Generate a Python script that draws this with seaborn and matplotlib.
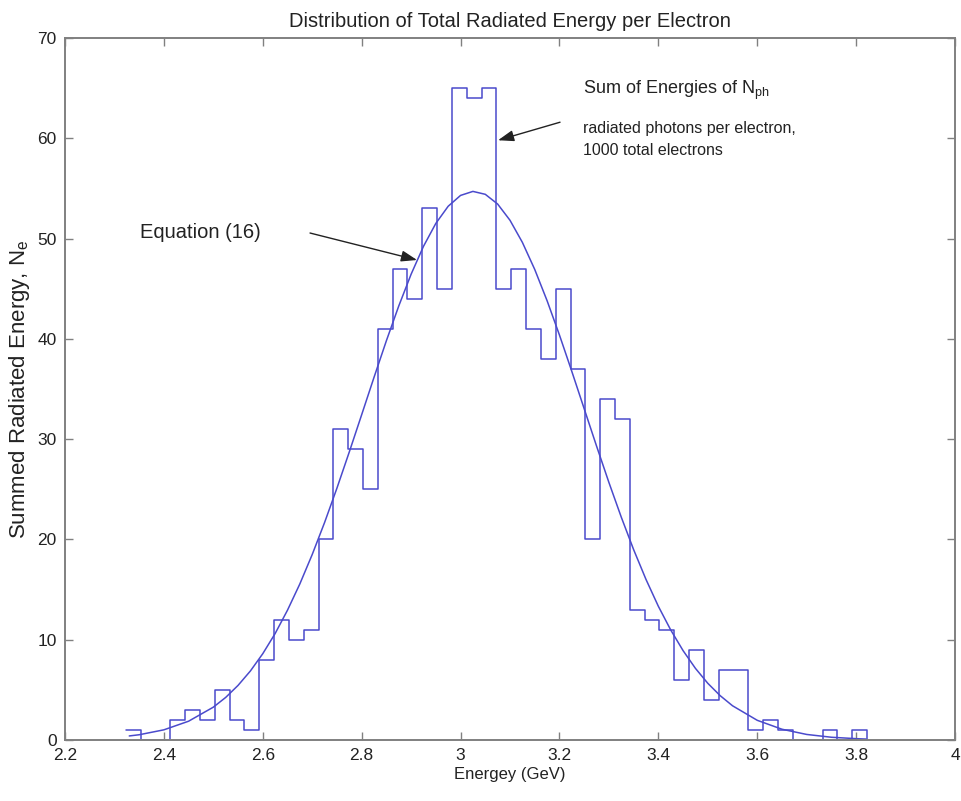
import numpy as np
import pandas as pd
import matplotlib
matplotlib.use("Agg")
import matplotlib.pyplot as plt
import seaborn as sns

# histogram: 50 bins between the smallest and largest electron energy
hist_min = 2.323
hist_max = 3.822
counts = [1, 0, 0, 2, 3, 2, 5, 2, 1, 8,
          12, 10, 11, 20, 31, 29, 25, 41, 47, 44,
          53, 45, 65, 64, 65, 45, 47, 41, 38, 45,
          37, 20, 34, 32, 13, 12, 11, 6, 9, 4,
          7, 7, 1, 2, 1, 0, 0, 1, 0, 1]

# Equation (16) curve
curve_x = [2.33, 2.35, 2.40, 2.45, 2.50, 2.525, 2.55, 2.575, 2.60, 2.625,
           2.65, 2.675, 2.70, 2.725, 2.75, 2.775, 2.80, 2.825, 2.85, 2.875,
           2.90, 2.925, 2.95, 2.975, 3.00, 3.025, 3.05, 3.075, 3.10, 3.125,
           3.15, 3.175, 3.20, 3.225, 3.25, 3.275, 3.30, 3.325, 3.35, 3.375,
           3.40, 3.425, 3.45, 3.475, 3.50, 3.525, 3.55, 3.60, 3.65, 3.70,
           3.75, 3.80, 3.82]
curve_y = [0.40, 0.52, 1.01, 1.87, 3.27, 4.24, 5.44, 6.88, 8.60, 10.61,
           12.94, 15.56, 18.49, 21.68, 25.11, 28.72, 32.43, 36.16, 39.81, 43.27,
           46.44, 49.22, 51.51, 53.22, 54.30, 54.70, 54.41, 53.44, 51.82, 49.62,
           46.92, 43.80, 40.38, 36.75, 33.03, 29.31, 25.68, 22.22, 18.98, 16.01,
           13.33, 10.97, 8.91, 7.14, 5.65, 4.42, 3.41, 1.96, 1.07, 0.55,
           0.27, 0.13, 0.09]

x_ticks = [2.2, 2.4, 2.6, 2.8, 3.0, 3.2, 3.4, 3.6, 3.8, 4.0]
x_ticklabels = ["2.2", "2.4", "2.6", "2.8", "3", "3.2", "3.4", "3.6", "3.8", "4"]
y_ticks = [0, 10, 20, 30, 40, 50, 60, 70]

sns.set_theme(style="white")
plt.rcParams['font.family'] = ['Liberation Sans', 'DejaVu Sans']
plt.rcParams['mathtext.fontset'] = 'custom'
plt.rcParams['mathtext.rm'] = 'Liberation Sans'
plt.rcParams['mathtext.it'] = 'Liberation Sans'

blue = '#4a4acc'
grey = '#808080'
ink = '#222222'

edges = np.linspace(hist_min, hist_max, len(counts) + 1)
df_hist = pd.DataFrame({'energy': edges, 'count': counts + [0]})
df_curve = pd.DataFrame({'energy': curve_x, 'value': curve_y})

fig = plt.figure(figsize=(9.61, 8.01), dpi=100)
ax = fig.add_axes([0.0676, 0.0762, 0.9262, 0.8764])

sns.lineplot(data=df_hist, x='energy', y='count', drawstyle='steps-post',
             color=blue, linewidth=1.1, ax=ax)
sns.lineplot(data=df_curve, x='energy', y='value', color=blue, linewidth=1.1, ax=ax)

ax.set_xlim(2.2, 4.0)
ax.set_ylim(0, 70)
ax.set_xticks(x_ticks)
ax.set_xticklabels(x_ticklabels)
ax.set_yticks(y_ticks)

for spine in ax.spines.values():
    spine.set_visible(True)
    spine.set_color(grey)
    spine.set_linewidth(1.4)
ax.tick_params(axis='both', which='both', direction='in', length=6, width=1.0,
               color=grey, labelsize=12.5, labelcolor=ink,
               top=True, right=True, bottom=True, left=True, pad=6)

ax.set_xlabel("Energey (GeV)", fontsize=12, color=ink, labelpad=3)
ax.set_ylabel(r"Summed Radiated Energy, N$_{\mathrm{e}}$", fontsize=16,
              color=ink, labelpad=4)
ax.set_title("Distribution of Total Radiated Energy per Electron",
             fontsize=14.5, color=ink, pad=8)

ax.text(3.2477, 64.8, r"Sum of Energies of N$_{\mathrm{ph}}$", fontsize=13,
        color=ink, va='center', ha='left')
ax.text(3.2477, 61.0, "radiated photons per electron,", fontsize=11.5,
        color=ink, va='center', ha='left')
ax.text(3.2477, 58.8, "1000 total electrons", fontsize=11.5,
        color=ink, va='center', ha='left')
ax.text(2.3517, 50.65, "Equation (16)", fontsize=14.5, color=ink,
        va='center', ha='left')

arrow_kw = dict(arrowstyle='-|>,head_length=0.8,head_width=0.28',
                color='#222222', lw=1.0, shrinkA=0, shrinkB=0)
ax.annotate("", xy=(3.0758, 59.8), xytext=(3.2012, 61.6), arrowprops=arrow_kw)
ax.annotate("", xy=(2.912, 47.86), xytext=(2.6956, 50.55), arrowprops=arrow_kw)

plt.savefig("out.png", dpi=100, facecolor='white')
plt.close()
